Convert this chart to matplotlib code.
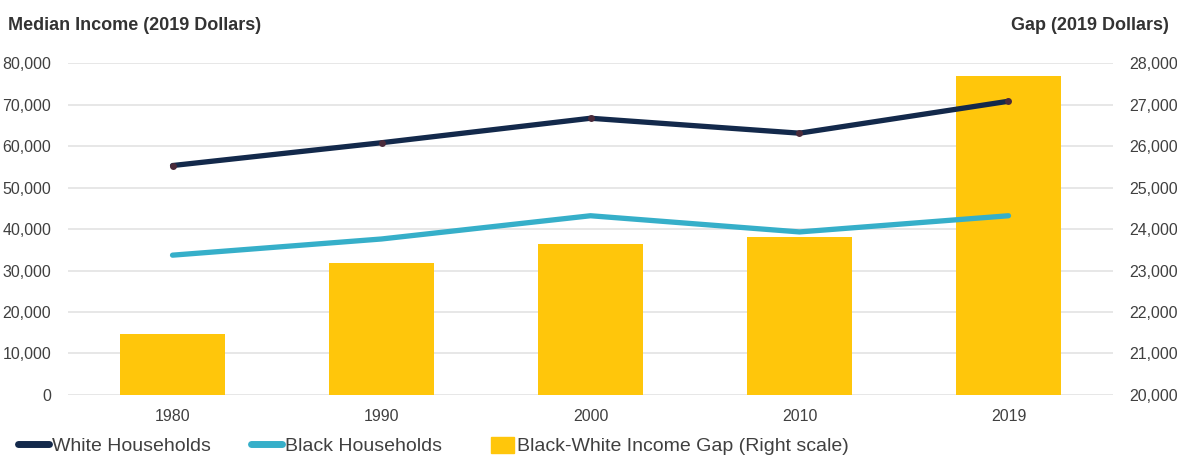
import matplotlib.pyplot as plt
import numpy as np
from matplotlib.ticker import FuncFormatter
from matplotlib.lines import Line2D
from matplotlib.patches import Patch, Rectangle
from matplotlib.legend_handler import HandlerPatch

plt.rcParams['font.family'] = ['Liberation Sans', 'DejaVu Sans']

# data
years = ['1980', '1990', '2000', '2010', '2019']
white = [55300, 60800, 66700, 63100, 70800]
black = [33700, 37600, 43200, 39300, 43200]
gap = [21470, 23180, 23640, 23810, 27700]

navy = '#13294b'
teal = '#36afc9'
gold = '#ffc60b'
txt = '#404040'

fig = plt.figure(figsize=(11.77, 4.57), dpi=100)
ax = fig.add_axes([0.0578, 0.1357, 0.8878, 0.7263])
ax2 = ax.twinx()

x = np.arange(len(years))

# bars on right axis, behind the lines
ax2.bar(x, gap, width=0.5, color=gold, zorder=2)
ax2.set_ylim(20000, 28000)
ax2.set_yticks(np.arange(20000, 28001, 1000))
ax2.grid(axis='y', color='#e3e3e3', linewidth=1.2, zorder=0)
ax2.set_axisbelow(True)

ax.set_zorder(ax2.get_zorder() + 1)
ax.patch.set_visible(False)
ax.plot(x, white, color=navy, linewidth=3.8, solid_capstyle='round',
        marker='o', markersize=5, markerfacecolor='#4a2a3a', markeredgewidth=0)
ax.plot(x, black, color=teal, linewidth=3.8, solid_capstyle='round')
ax.set_ylim(0, 80000)
ax.set_yticks(np.arange(0, 80001, 10000))
ax.set_xlim(-0.5, len(years) - 0.5)
ax.set_xticks(x)
ax.set_xticklabels(years)

fmt = FuncFormatter(lambda v, p: f'{int(v):,}')
ax.yaxis.set_major_formatter(fmt)
ax2.yaxis.set_major_formatter(fmt)

for a in (ax, ax2):
    for s in a.spines.values():
        s.set_visible(False)
    a.tick_params(length=0, labelsize=11.5, colors=txt)
ax.tick_params(axis='y', pad=12)
ax.tick_params(axis='x', pad=10)
ax2.tick_params(axis='y', pad=12)

fig.text(0.007, 0.945, 'Median Income (2019 Dollars)', fontsize=13,
         fontweight='bold', color='#333333', va='center')
fig.text(0.993, 0.945, 'Gap (2019 Dollars)', fontsize=13,
         fontweight='bold', color='#333333', va='center', ha='right')


def small_box(legend, orig_handle, xdescent, ydescent, width, height, fontsize):
    return Rectangle((-xdescent + width * 0.25, -ydescent), width * 0.75, height)


handles = [Line2D([], [], color=navy, linewidth=5, solid_capstyle='round'),
           Line2D([], [], color=teal, linewidth=5, solid_capstyle='round'),
           Patch(color=gold)]
labels = ['White Households', 'Black Households', 'Black-White Income Gap (Right scale)']
fig.legend(handles, labels, loc='lower left', bbox_to_anchor=(0.0, -0.035),
           ncol=3, frameon=False, fontsize=14, handlelength=1.6,
           handleheight=0.9, handletextpad=0.15, columnspacing=2.1,
           labelcolor=txt, handler_map={Patch: HandlerPatch(patch_func=small_box)})

fig.savefig('out.png', dpi=100)
